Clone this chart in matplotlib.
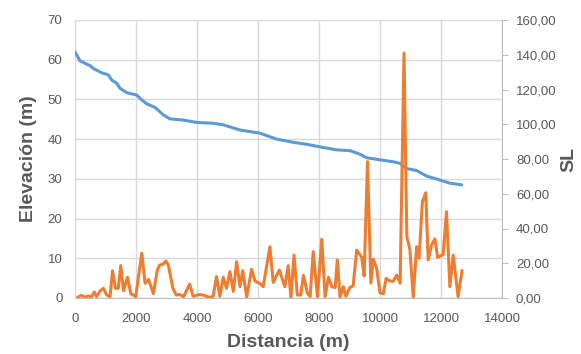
import matplotlib
matplotlib.use("Agg")
import matplotlib.pyplot as plt
from matplotlib.ticker import FuncFormatter

# elevación (eje izquierdo)
dist_elev = [0, 164, 492, 600, 875, 1092, 1200, 1366, 1475, 1694, 2022, 2186, 2350,
             2623, 2896, 3115, 3552, 3989, 4536, 4863, 5410, 6066, 6612, 7158, 7596,
             8142, 8579, 9016, 9344, 9563, 10000, 10437, 10656, 10874, 11202, 11530,
             11967, 12295, 12678]
elev = [62.0, 59.7, 58.5, 57.8, 56.7, 56.2, 54.9, 54.1, 52.8, 51.7, 51.1, 49.9, 48.9,
        48.0, 46.1, 45.1, 44.8, 44.2, 44.0, 43.6, 42.3, 41.5, 40.0, 39.2, 38.7,
        37.9, 37.3, 37.1, 36.2, 35.3, 34.8, 34.3, 33.9, 32.6, 32.1, 30.7,
        29.7, 28.9, 28.5]

# SL (eje derecho)
dist_sl = [100, 200, 330, 440, 550, 630, 710, 820, 930, 1040, 1150, 1230, 1330, 1420,
           1500, 1590, 1720, 1830, 1990, 2190, 2300, 2410, 2570, 2700, 2780, 2890,
           2980, 3060, 3210, 3320, 3430, 3560, 3760, 3870, 4090, 4200, 4420, 4530,
           4640, 4750, 4860, 4970, 5080, 5190, 5300, 5410, 5500, 5630, 5790, 5900,
           6060, 6170, 6390, 6500, 6700, 6880, 6990, 7080, 7180, 7290, 7400, 7490,
           7620, 7710, 7810, 7950, 8090, 8200, 8310, 8420, 8530, 8600, 8690, 8800,
           8880, 9010, 9120, 9236, 9400, 9480, 9590, 9700, 9780, 9890, 10000, 10110,
           10200, 10300, 10430, 10550, 10660, 10787, 10880, 10980, 11090, 11200,
           11280, 11390, 11500, 11580, 11690, 11800, 11890, 12070, 12180, 12290,
           12400, 12560, 12690]
sl = [0.5, 1.5, 0.5, 1.2, 0.8, 3.5, 0.8, 4.0, 5.6, 1.7, 0.8, 15.7, 5.6, 5.6,
      18.6, 4.2, 11.9, 2.5, 0.8, 25.7, 8.4, 10.7, 2.5, 16.1, 19.0, 19.5,
      21.3, 19.0, 5.6, 1.7, 2.0, 0.8, 8.0, 1.0, 2.0, 1.7, 0.3, 1.0,
      12.3, 1.0, 11.9, 5.6, 15.2, 3.8, 20.9, 6.5, 15.7, 0.5, 16.5, 9.8,
      8.4, 6.5, 29.5, 9.0, 16.1, 6.5, 18.6, 0.0, 24.7, 1.7, 1.7, 13.0,
      2.8, 0.8, 26.7, 0.8, 33.8, 0.8, 11.9, 6.5, 6.0, 21.9, 0.5, 6.5,
      1.0, 6.0, 7.0, 27.6, 23.5, 12.7, 78.5, 8.6, 22.3, 17.0, 3.0, 2.5,
      11.3, 10.0, 9.5, 13.2, 8.5, 141.0, 35.3, 28.0, 0.4, 29.5,
      22.8, 55.4, 60.6, 21.9, 30.5, 34.0, 23.4, 25.0, 49.7, 6.5,
      24.7, 0.8, 15.7]

x_ticks = list(range(0, 14001, 2000))
left_ticks = list(range(0, 71, 10))
right_ticks = list(range(0, 161, 20))

GRAY_TXT = "#595959"
GRID = "#D9D9D9"

plt.rcParams['font.family'] = ['Liberation Sans', 'DejaVu Sans']

fig = plt.figure(figsize=(5.81, 3.54), dpi=100)
ax = fig.add_axes([75 / 581, 56 / 354, 427 / 581, 278 / 354])
ax2 = ax.twinx()

ax.plot(dist_elev, elev, color="#5B9BD5", lw=2.2, solid_capstyle="round")
ax2.plot(dist_sl, sl, color="#ED7D31", lw=2.2, solid_joinstyle="round")

ax.set_xlim(0, 14000)
ax.set_ylim(0, 70)
ax2.set_ylim(0, 160)
ax.set_xticks(x_ticks)
ax.set_yticks(left_ticks)
ax2.set_yticks(right_ticks)
ax2.yaxis.set_major_formatter(FuncFormatter(lambda v, p: f"{v:.2f}".replace(".", ",")))

ax.grid(True, color=GRID, lw=1)
ax.set_axisbelow(True)

for a in (ax, ax2):
    for s in ("top", "left"):
        a.spines[s].set_visible(False)
ax.spines["right"].set_visible(False)
ax2.spines["bottom"].set_visible(False)
ax.spines["bottom"].set_color("#BFBFBF")
ax2.spines["right"].set_color("#BFBFBF")

ax.tick_params(axis="x", length=0, labelsize=9.5, labelcolor=GRAY_TXT, pad=11)
ax.tick_params(axis="y", length=0, labelsize=9.5, labelcolor=GRAY_TXT, pad=9)
ax2.tick_params(axis="y", length=4, color="#BFBFBF", labelsize=9.5,
                labelcolor=GRAY_TXT, pad=6)

ax.set_xlabel("Distancia (m)", fontsize=14, fontweight="bold", color=GRAY_TXT, labelpad=6)
ax.set_ylabel("Elevación (m)", fontsize=14, fontweight="bold", color=GRAY_TXT, labelpad=8)
ax2.set_ylabel("SL", fontsize=14, fontweight="bold", color=GRAY_TXT, labelpad=3)

fig.savefig("out.png", dpi=100)
